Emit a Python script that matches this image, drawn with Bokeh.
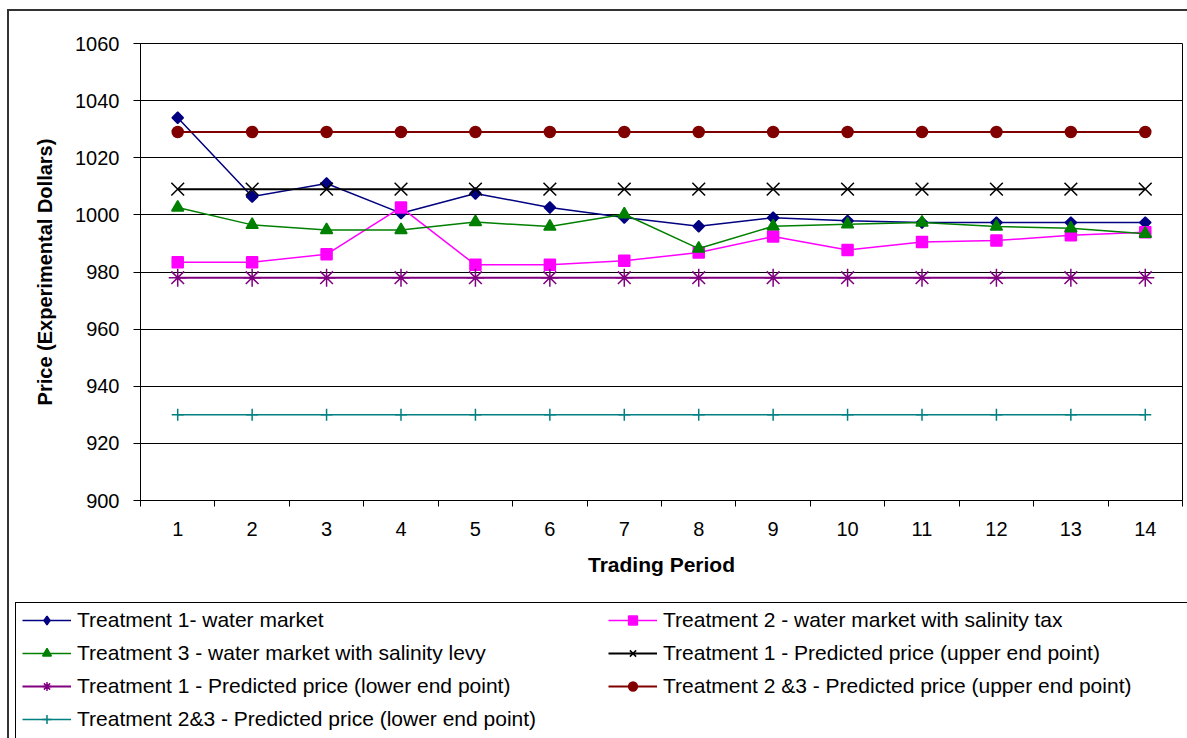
import math

from bokeh.plotting import figure
from bokeh.layouts import column
from bokeh.models import (LinearAxis, FixedTicker, Range1d, Legend, LegendItem,
                          Grid, InlineStyleSheet)
from bokeh.embed import file_html
from bokeh.resources import INLINE

# Trading periods and observed / predicted prices (experimental dollars)
periods = [1, 2, 3, 4, 5, 6, 7, 8, 9, 10, 11, 12, 13, 14]
t1_market = [1034.0, 1006.4, 1011.0, 1000.6, 1007.5, 1002.6, 999.1,
             996.0, 999.0, 997.9, 997.3, 997.3, 997.3, 997.3]
t2_tax = [983.4, 983.4, 986.2, 1002.6, 982.5, 982.5, 983.9,
          986.8, 992.4, 987.7, 990.5, 991.0, 992.9, 993.9]
t3_levy = [1002.6, 996.5, 994.7, 994.7, 997.5, 995.9, 1000.2,
           988.2, 996.0, 996.7, 997.3, 995.9, 995.3, 993.4]
t1_pred_upper = [1009, 1009, 1009, 1009, 1009, 1009, 1009,
                 1009, 1009, 1009, 1009, 1009, 1009, 1009]
t1_pred_lower = [978, 978, 978, 978, 978, 978, 978,
                 978, 978, 978, 978, 978, 978, 978]
t23_pred_upper = [1029, 1029, 1029, 1029, 1029, 1029, 1029,
                  1029, 1029, 1029, 1029, 1029, 1029, 1029]
t23_pred_lower = [930, 930, 930, 930, 930, 930, 930,
                  930, 930, 930, 930, 930, 930, 930]
y_ticks = [900, 920, 940, 960, 980, 1000, 1020, 1040, 1060]

# series: label, values, colour, (chart marker, size, angle), (key marker, size), line width
SERIES = [
    ("Treatment 1- water market", t1_market, "#000080",
     ("square", 8, math.pi / 4), ("diamond", 13), 1.5),
    ("Treatment 2 - water market with salinity tax", t2_tax, "#FF00FF",
     ("square", 11, 0.0), ("square", 11), 1.5),
    ("Treatment 3 - water market with salinity levy", t3_levy, "#008000",
     ("triangle", 12, 0.0), ("triangle", 12), 1.5),
    ("Treatment 1 - Predicted price (upper end point)", t1_pred_upper, "#000000",
     ("x", 18, 0.0), ("x", 15), 2),
    ("Treatment 1 - Predicted price (lower end point)", t1_pred_lower, "#800080",
     ("asterisk", 18, 0.0), ("asterisk", 15), 2),
    ("Treatment 2 &3 - Predicted price (upper end point)", t23_pred_upper, "#800000",
     ("circle", 11, 0.0), ("circle", 11), 2),
    ("Treatment 2&3 - Predicted price (lower end point)", t23_pred_lower, "#008080",
     ("cross", 12, 0.0), ("cross", 12), 1.5),
]

FONT = "Liberation Sans"

chart = figure(width=1187, height=590, output_backend="svg", toolbar_location=None,
               x_range=Range1d(0.5, 14.5), y_range=Range1d(900, 1060),
               x_axis_type=None, y_axis_type=None,
               min_border_left=140, min_border_right=5,
               min_border_top=43, min_border_bottom=90)
chart.frame_align = False
chart.outline_line_color = "black"
chart.outline_line_width = 1
chart.background_fill_color = "white"
chart.border_fill_color = "white"

# y axis with outward ticks
yaxis = LinearAxis(ticker=FixedTicker(ticks=y_ticks),
                   major_tick_out=7, major_tick_in=0,
                   minor_tick_line_color=None,
                   axis_line_color="black", major_tick_line_color="black",
                   major_label_standoff=14,
                   major_label_text_font=FONT, major_label_text_font_size="20px",
                   major_label_text_color="black",
                   axis_label="Price (Experimental Dollars)",
                   axis_label_text_font=FONT, axis_label_text_font_size="20px",
                   axis_label_text_font_style="bold", axis_label_text_color="black",
                   axis_label_standoff=16)
chart.add_layout(yaxis, "left")
chart.add_layout(Grid(dimension=1, ticker=yaxis.ticker,
                      grid_line_color="black", grid_line_width=1))

# x axis: labels centred on each period, short separator ticks between periods
bounds = [k - 0.5 for k in periods] + [periods[-1] + 0.5]
xaxis = LinearAxis(ticker=FixedTicker(ticks=periods, minor_ticks=bounds),
                   major_tick_out=6, major_tick_in=0, major_tick_line_color=None,
                   minor_tick_out=6, minor_tick_in=0, minor_tick_line_color="black",
                   axis_line_color="black", major_label_standoff=15,
                   major_label_text_font=FONT, major_label_text_font_size="20px",
                   major_label_text_color="black",
                   axis_label="Trading Period",
                   axis_label_text_font=FONT, axis_label_text_font_size="21px",
                   axis_label_text_font_style="bold", axis_label_text_color="black",
                   axis_label_standoff=14)
chart.add_layout(xaxis, "below")

# legend strip under the chart; its sample glyphs share each series' styling
# (the strip's ranges keep the data itself out of view)
key = figure(width=1187, height=148, output_backend="svg", toolbar_location=None,
             x_range=Range1d(100, 101), y_range=Range1d(0, 1),
             x_axis_type=None, y_axis_type=None,
             min_border_left=0, min_border_right=0,
             min_border_top=0, min_border_bottom=0)
key.frame_align = False
key.outline_line_color = None
key.background_fill_color = "white"
key.border_fill_color = "white"

items = []
for label, values, color, (mk, sz, ang), (kmk, ksz), lw in SERIES:
    chart.line(periods, values, line_color=color, line_width=lw)
    chart.scatter(periods, values, marker=mk, size=sz, angle=ang,
                  fill_color=color, line_color=color, line_width=1.5)
    kl = key.line(periods, values, line_color=color, line_width=lw)
    ks = key.scatter(periods, values, marker=kmk, size=ksz,
                     fill_color=color, line_color=color, line_width=1.5)
    items.append(LegendItem(label=label, renderers=[kl, ks]))

legend = Legend(items=items, orientation="horizontal", ncols=2, location=(22, 7),
                glyph_width=49, glyph_height=22, label_standoff=6,
                label_width=522, label_height=22, spacing=9, padding=5, margin=0,
                label_text_font=FONT, label_text_font_size="21px",
                label_text_color="black",
                border_line_color=None, background_fill_alpha=0)
key.add_layout(legend, "center")

p = column(chart, key, spacing=0)

# chart-area border and legend box edges (their far sides run past the page)
p.stylesheets = [InlineStyleSheet(css="""
:host { position: relative; }
:host::before {
  content: ""; position: absolute; left: 7px; top: 9px; right: 0; bottom: 0;
  border-left: 2px solid #333; border-top: 2px solid #333;
  pointer-events: none; z-index: 5;
}
:host::after {
  content: ""; position: absolute; left: 15px; top: 602px; right: 0; bottom: 0;
  border-left: 1px solid #000; border-top: 1px solid #000;
  pointer-events: none; z-index: 5;
}
""")]

open("out.html", "w").write(file_html(p, INLINE))
